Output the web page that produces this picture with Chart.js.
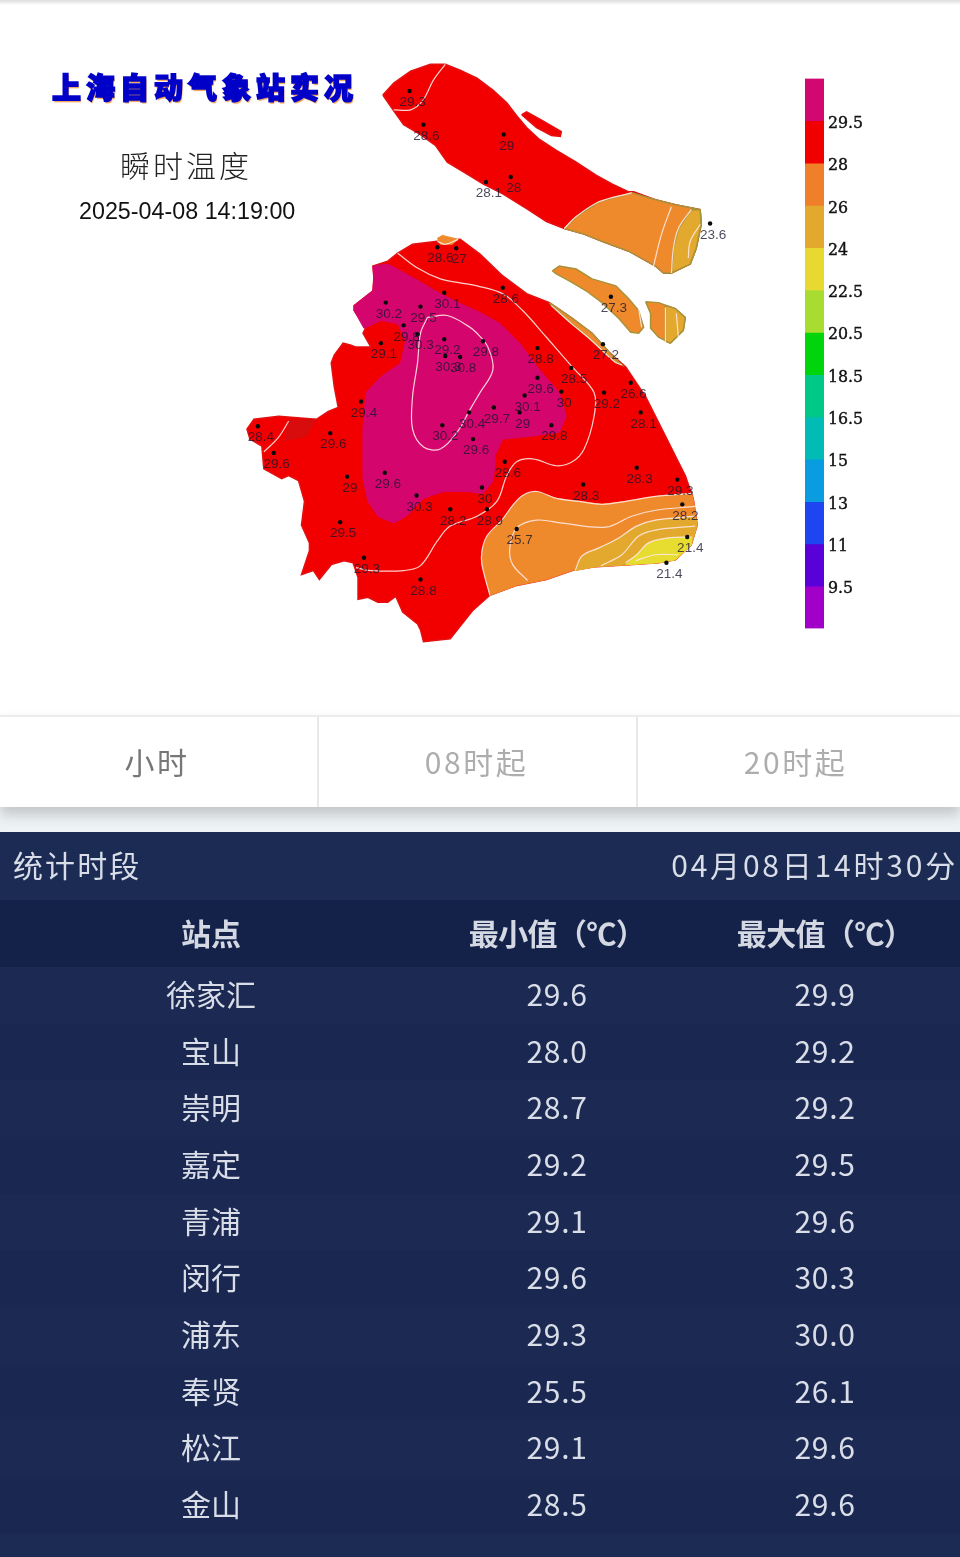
<!DOCTYPE html>
<html lang="zh">
<head>
<meta charset="utf-8">
<title>上海自动气象站实况</title>
<script src="https://cdn.jsdelivr.net/npm/chart.js@4/dist/chart.umd.min.js"></script>
<style>
  html, body { margin: 0; padding: 0; background: #fff; }
  body { position: relative; width: 960px; height: 1557px; overflow: hidden;
         font-family: "Noto Sans CJK SC", "Noto Sans", sans-serif; }
  #top-edge { position: absolute; left: 0; top: 0; width: 960px; height: 5px;
              background: linear-gradient(#dcdcdc, #fff); }
  #map-chart { position: absolute; left: 0; top: 0; }
  #scale-chart { position: absolute; left: 805px; top: 65px; }
  .map-title { position: absolute; left: 52px; top: 64px; font-size: 29px; line-height: 44px; font-weight: 900;
               letter-spacing: 5px; color: #0000c8; white-space: nowrap;
               -webkit-text-stroke: 1.6px #0000c8; text-shadow: 1px 2px 1px #f0a050; }
  .map-sub { position: absolute; left: 120px; top: 141px; font-size: 30px; line-height: 46px; font-weight: 300;
             letter-spacing: 3px; color: #222; white-space: nowrap; }
  .map-time { position: absolute; left: 79px; top: 197px; font-family: "Liberation Sans", sans-serif;
              font-size: 23.3px; line-height: 28px; color: #111; white-space: nowrap; }

  #band { position: absolute; left: 0; top: 807px; width: 960px; height: 25px; background: #eef3f6; }
  .tabs { position: absolute; left: 0; top: 715px; width: 960px; height: 92px; display: flex; background: #fff;
          border-top: 2px solid #ececec; box-sizing: border-box; box-shadow: 0 8px 12px #c4c6c8; }
  .tabs div { flex: 0 0 auto; text-align: center; font-size: 30px; line-height: 88px; letter-spacing: 2.6px;
              color: #adadad; border-right: 2px solid #e8e8e8; box-sizing: border-box; }
  .tabs div:nth-child(1) { width: 319px; color: #777; padding-right: 3px; }
  .tabs div:nth-child(2) { width: 319px; padding-right: 2px; }
  .tabs div:nth-child(3) { width: 322px; border-right: none; padding-right: 7px; }

  .stats { position: absolute; left: 0; top: 832px; width: 960px; height: 725px; background: #1c2b54; color: #d8dde8; }
  .period { position: absolute; left: 0; top: 0; width: 960px; height: 68px; line-height: 64px; font-size: 30px; }
  .period span:first-child { position: absolute; left: 13px; letter-spacing: 2.1px; }
  .period span:last-child { position: absolute; right: 2px; letter-spacing: 2.8px; }
  .row { position: absolute; left: 0; width: 960px; height: 56.7px; line-height: 53px; font-size: 30px; letter-spacing: 0.7px; }
  .row span { position: absolute; top: 0; transform: translateX(-50%); white-space: nowrap; }
  .row .c1 { left: 211px; letter-spacing: 0; } .row .c2 { left: 557px; } .row .c3 { left: 825px; }
  .row.head { top: 68px; height: 67px; line-height: 65px; background: #14224a; font-weight: 700; color: #d4d8e2; letter-spacing: -0.6px; }
  .row.odd { background: #1c2a53; }
  .row.even { background: #1a2851; }
</style>
</head>
<body>
<div id="top-edge"></div>
<canvas id="map-chart" width="960" height="715"></canvas>
<div class="map-title">上海自动气象站实况</div>
<div class="map-sub">瞬时温度</div>
<div class="map-time">2025-04-08 14:19:00</div>
<canvas id="scale-chart" width="70" height="577"></canvas>

<div id="band"></div>
<div class="tabs"><div>小时</div><div>08时起</div><div>20时起</div></div>
<div class="stats" id="stats">
  <div class="period"><span>统计时段</span><span>04月08日14时30分</span></div>
  <div class="row head"><span class="c1">站点</span><span class="c2">最小值（℃）</span><span class="c3">最大值（℃）</span></div>
</div>

<script>
/* ---------- Table ---------- */
const districts = ['徐家汇', '宝山', '崇明', '嘉定', '青浦', '闵行', '浦东', '奉贤', '松江', '金山'];
const minTemps  = ['29.6', '28.0', '28.7', '29.2', '29.1', '29.6', '29.3', '25.5', '29.1', '28.5'];
const maxTemps  = ['29.9', '29.2', '29.2', '29.5', '29.6', '30.3', '30.0', '26.1', '29.6', '29.6'];

/* ---------- Colour scale ---------- */
const scaleColors = ['#d0086f', '#f00000', '#ef8029', '#e3a92e', '#e7d92f', '#a9dc30', '#00d40a',
                     '#00c887', '#00bcb4', '#0a9ce0', '#1f45f0', '#5a00d8', '#a000c8'];
const scaleTicks  = ['29.5', '28', '26', '24', '22.5', '20.5', '18.5', '16.5', '15', '13', '11', '9.5'];

/* ---------- Stations (map units, value as printed) ---------- */
const stationX = [409, 423, 504, 486, 511, 712, 437, 456, 444, 385, 420, 403, 417, 380, 444, 445, 460, 360, 329, 442,
                  469, 473, 256, 272, 503, 483, 538, 572, 538, 525, 562, 494, 520, 552, 605, 632, 642, 604, 612, 505,
                  638, 584, 679, 684, 689, 668, 517, 482, 487, 450, 416, 384, 346, 339, 363, 420];
const stationY = [88, 122, 132, 180, 175, 222, 246, 247, 292, 302, 306, 325, 334, 343, 339, 356, 357, 402, 434, 426,
                  413, 440, 427, 454, 287, 341, 348, 368, 378, 396, 392, 408, 413, 426, 393, 383, 413, 344, 296, 463,
                  469, 486, 481, 506, 539, 565, 531, 489, 511, 511, 497, 474, 478, 524, 560, 582];
const stationTemp = ['29.3', '28.6', '29', '28.1', '28', '23.6', '28.6', '27', '30.1', '30.2', '29.5', '29.8', '30.3', '29.1', '29.2', '30.3', '30.8', '29.4', '29.6', '30.2',
                     '30.4', '29.6', '28.4', '29.6', '28.6', '29.8', '28.8', '28.5', '29.6', '30.1', '30', '29.7', '29', '29.8', '29.2', '26.6', '28.1', '27.2', '27.3', '28.6',
                     '28.3', '28.3', '29.3', '28.2', '21.4', '21.4', '25.7', '30', '28.9', '28.2', '30.3', '29.6', '29', '29.5', '29.3', '28.8'];

/* ---------- Map outlines (map units) ---------- */
const chongming = [[382,92],[393,80],[410,68],[430,61],[445,61],[460,67],[477,75],[493,87],[507,100],[517,113],[527,125],[540,137],[557,148],[577,160],[597,173],[613,182],[630,190],[635,190],[657,198],[677,203],[702,208],[703,223],[698,247],[692,263],[673,272],[665,272],[657,265],[630,250],[603,240],[583,232],[565,227],[547,220],[527,207],[503,192],[483,182],[467,172],[447,160],[435,143],[420,132],[403,122],[393,108]];
const chongmingEast = [[565,227],[577,215],[600,200],[633,191],[657,198],[677,203],[702,208],[703,223],[698,247],[692,263],[673,272],[665,272],[657,265],[630,250],[603,240],[583,232]];
const chongmingTip = [[693,208],[702,208],[703,223],[698,247],[692,263],[673,272],[675,247],[680,227]];
const sliverIsland = [[522,112],[527,109],[543,118],[562,129],[561,134],[552,133],[537,125]];
const changxing = [[553,270],[560,265],[577,268],[593,278],[617,285],[630,298],[640,310],[645,327],[640,333],[632,332],[620,318],[603,302],[587,290],[570,280],[557,273]];
const hengsha = [[647,301],[660,302],[677,308],[687,317],[685,330],[672,343],[660,337],[652,328],[652,313]];
const hengshaEast = [[667,305],[677,308],[687,317],[685,330],[672,343],[667,341]];
const mainland = [[387,260],[397,252],[412,243],[437,240],[460,238],[480,253],[503,275],[527,293],[550,302],[573,318],[593,333],[610,352],[627,367],[647,397],[667,437],[680,463],[687,477],[695,500],[699,527],[693,547],[677,562],[660,565],[630,567],[597,569],[573,573],[547,582],[517,588],[490,598],[473,613],[450,642],[423,645],[420,633],[417,627],[402,615],[395,599],[387,605],[377,605],[367,600],[357,602],[357,580],[352,565],[343,563],[330,567],[318,582],[312,573],[300,577],[308,553],[308,545],[300,527],[303,503],[297,482],[287,477],[280,480],[262,470],[260,447],[248,440],[245,430],[252,420],[277,417],[315,420],[327,412],[337,408],[333,387],[330,363],[333,355],[342,343],[350,345],[355,347],[370,347],[362,333],[365,327],[353,310],[353,305],[372,290],[373,277],[372,265]];
const warmCore = [[372,265],[387,263],[413,277],[440,293],[460,303],[480,312],[500,323],[520,343],[540,370],[560,393],[567,417],[560,433],[533,437],[503,440],[495,457],[495,467],[493,483],[483,495],[467,493],[443,493],[423,500],[407,517],[393,525],[377,518],[367,503],[362,480],[362,450],[362,430],[365,393],[380,377],[400,363],[405,340],[397,323],[380,320],[363,328],[353,310],[353,305],[372,290],[373,277]];
const westPocket = [[287,421],[315,420],[305,437],[283,442]];
const northTip = [[437,237],[442,234],[458,238],[452,243],[440,243]];
const coastBand = [[550,302],[573,318],[593,333],[610,352],[623,365],[616,362],[603,350],[590,338],[572,323],[552,305]];
const southOrange = [[490,598],[482,567],[482,553],[487,538],[502,522],[513,507],[523,497],[537,493],[557,500],[580,503],[603,506],[627,503],[657,498],[693,495],[695,500],[699,527],[693,547],[677,562],[660,565],[630,567],[597,569],[573,573],[547,582],[517,588]];
const southGold = [[576,573],[583,558],[600,550],[620,540],[638,528],[657,522],[697,518],[699,527],[693,547],[677,562],[660,565],[630,567],[597,569]];
const southYellow = [[627,567],[638,557],[650,545],[670,540],[694,539],[693,547],[677,562],[660,565]];

/* ---------- Isotherms (map units) ---------- */
const isotherms = [
  [[445,61],[433,77],[422,98],[410,107],[393,107]],
  [[565,227],[577,215],[600,200],[633,191]],
  [[673,205],[663,233],[655,265]],
  [[693,208],[680,227],[675,247],[673,272]],
  [[702,223],[692,240],[690,257]],
  [[640,308],[643,327]],
  [[667,307],[667,342]],
  [[678,313],[680,337]],
  [[437,240],[445,243],[458,238]],
  [[552,305],[572,323],[590,338],[603,350],[616,362],[623,365]],
  [[397,252],[417,267],[440,278],[460,282],[477,285],[503,293],[523,310],[547,337],[573,367],[595,393],[595,417],[585,450],[573,463],[557,467],[533,460],[517,463],[507,477],[497,503],[477,518],[450,528],[437,543],[420,568],[403,573],[370,573],[355,570]],
  [[427,317],[447,315],[467,325],[477,333],[488,347],[493,370],[480,393],[470,410],[457,433],[440,450],[423,448],[412,430],[412,397],[417,363],[420,333],[427,317]],
  [[287,422],[277,438],[262,453]],
  [[490,598],[482,567],[482,553],[487,538],[502,522],[513,507],[523,497],[537,493],[557,500],[580,503],[603,506],[627,503],[657,498],[693,495]],
  [[528,583],[513,567],[510,550],[517,530],[537,522],[563,525],[607,529],[633,518],[657,512],[697,508]],
  [[576,573],[583,558],[600,550],[620,540],[638,528],[657,522],[697,518]],
  [[602,568],[623,557],[640,538],[657,532],[697,528]],
  [[627,565],[638,557],[650,545],[670,540],[693,539]],
  [[637,563],[657,557],[680,557]]
];

/* ---------- Fill the table ---------- */
const stats = document.getElementById('stats');
districts.forEach((name, i) => {
  const row = document.createElement('div');
  row.className = 'row ' + (i % 2 ? 'even' : 'odd');
  row.style.top = (135 + i * 56.67) + 'px';
  row.innerHTML = `<span class="c1">${name}</span><span class="c2">${minTemps[i]}</span><span class="c3">${maxTemps[i]}</span>`;
  stats.appendChild(row);
});

/* ---------- Map chart ---------- */
const toPoints = (list) => list.map(([x, y]) => ({ x, y }));

function zone(list, color, edge) {
  return {
    data: toPoints(list.concat([list[0]])),
    showLine: true,
    fill: 'shape',
    backgroundColor: color,
    borderColor: edge || color,
    borderWidth: edge ? 1.5 : 1,
    pointRadius: 0,
    tension: 0,
  };
}

const RED = '#f20000', RED_EDGE = '#e41010', MAGENTA = '#d4066e', ORANGE = '#ef8a2c', GOLD = '#e3a92e', YELLOW = '#e7dc30', OLIVE = '#a8923a';

const mapDatasets = [
  zone(chongming, RED, RED_EDGE),
  zone(chongmingEast, ORANGE, OLIVE),
  zone(chongmingTip, GOLD, OLIVE),
  zone(sliverIsland, RED, RED_EDGE),
  zone(changxing, ORANGE, OLIVE),
  zone(hengsha, ORANGE, OLIVE),
  zone(hengshaEast, GOLD, OLIVE),
  zone(mainland, RED, RED_EDGE),
  zone(warmCore, MAGENTA),
  zone(westPocket, '#d80c0c'),
  zone(northTip, ORANGE),
  zone(coastBand, ORANGE, OLIVE),
  zone(southOrange, ORANGE),
  zone(southGold, GOLD),
  zone(southYellow, YELLOW),
];

isotherms.forEach((line) => {
  mapDatasets.push({
    data: toPoints(line),
    showLine: true,
    fill: false,
    borderColor: 'rgba(255, 232, 226, 0.9)',
    borderWidth: 1.2,
    pointRadius: 0,
    tension: 0.35,
  });
});

const stationIndex = mapDatasets.length;
mapDatasets.push({
  data: stationX.map((x, i) => ({ x, y: stationY[i] })),
  showLine: false,
  pointRadius: 2.2,
  pointBackgroundColor: '#0a0a0a',
  pointBorderWidth: 0,
});

// Les derniers datasets passent au-dessus
mapDatasets.forEach((d, i) => { d.order = -i; });

// Valeur imprimée sous chaque station
const stationLabels = {
  id: 'stationLabels',
  afterDatasetsDraw(chart) {
    const ctx = chart.ctx;
    ctx.save();
    ctx.font = '13.5px "Liberation Sans", sans-serif';
    ctx.textAlign = 'center';
    ctx.textBaseline = 'middle';
    ctx.fillStyle = 'rgba(25, 20, 45, 0.78)';
    chart.getDatasetMeta(stationIndex).data.forEach((pt, i) => {
      ctx.fillText(stationTemp[i], pt.x + 3, pt.y + 11.5);
    });
    ctx.restore();
  },
};

new Chart(document.getElementById('map-chart'), {
  type: 'scatter',
  data: { datasets: mapDatasets },
  options: {
    responsive: false,
    animation: false,
    layout: { padding: 0 },
    plugins: { legend: { display: false }, tooltip: { enabled: false } },
    scales: {
      x: { display: false, min: 0, max: 960 },
      y: { display: false, min: 0, max: 715, reverse: true },
    },
  },
  plugins: [stationLabels],
});

/* ---------- Colour bar ---------- */
new Chart(document.getElementById('scale-chart'), {
  type: 'bar',
  data: {
    labels: [''],
    datasets: scaleColors.map((color) => ({
      data: [1],
      backgroundColor: color,
      borderWidth: 0,
      barPercentage: 1,
      categoryPercentage: 1,
    })),
  },
  options: {
    responsive: false,
    animation: false,
    layout: { padding: 0 },
    plugins: { legend: { display: false }, tooltip: { enabled: false } },
    scales: {
      x: { display: false, stacked: true },
      y: {
        stacked: true,
        position: 'right',
        reverse: true,
        min: 0,
        max: scaleColors.length,
        afterFit: (axis) => { axis.width = 51; },
        grid: { display: false, drawTicks: false },
        border: { display: false },
        ticks: {
          stepSize: 1,
          autoSkip: false,
          padding: 4,
          labelOffset: 3,
          color: '#111',
          textStrokeColor: '#111',
          textStrokeWidth: 0.4,
          font: { family: '"DejaVu Serif", serif', size: 15.8 },
          callback: (value) => scaleTicks[value - 1] || '',
        },
      },
    },
  },
});
</script>
</body>
</html>
